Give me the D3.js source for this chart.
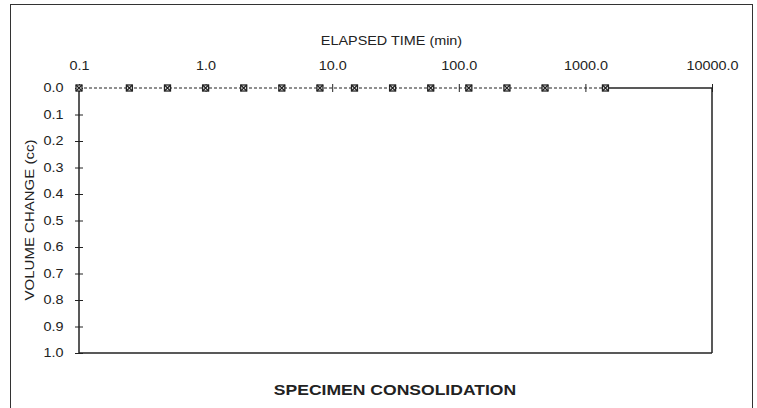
<!DOCTYPE html>
<html>
<head>
<meta charset="utf-8">
<script src="https://cdn.jsdelivr.net/npm/d3@7"></script>
<style>
  body { margin: 0; background: #fff; }
  text { font-family: "Liberation Sans", Arial, sans-serif; fill: #222; }
</style>
</head>
<body>
<div id="chart"></div>
<script>
const width = 757;
const height = 408;

// données
const elapsedTime = [0.1, 0.25, 0.5, 1, 2, 4, 8, 15, 30, 60, 120, 240, 480, 1440];
const volumeChange = [0, 0, 0, 0, 0, 0, 0, 0, 0, 0, 0, 0, 0, 0];
const xTicks = [0.1, 1, 10, 100, 1000, 10000];
const yTicks = [0, 0.1, 0.2, 0.3, 0.4, 0.5, 0.6, 0.7, 0.8, 0.9, 1.0];

const plot = { left: 79, right: 712, top: 88, bottom: 353 };
const sx = 1.2; // texte un peu étiré en largeur

const svg = d3.select("#chart").append("svg")
    .attr("width", width)
    .attr("height", height);

// cadre extérieur
svg.append("rect")
    .attr("x", 10.5).attr("y", 4.5)
    .attr("width", 742).attr("height", 420)
    .attr("fill", "none")
    .attr("stroke", "#333")
    .attr("stroke-width", 1);

const x = d3.scaleLog()
    .domain([0.1, 10000])
    .range([plot.left, plot.right]);

const y = d3.scaleLinear()
    .domain([0, 1])
    .range([plot.top, plot.bottom]);

// axe du haut
const gx = svg.append("g")
    .attr("transform", `translate(0,${plot.top})`)
    .call(d3.axisTop(x).tickValues(xTicks).tickFormat(d3.format(".1f")));
gx.select(".domain").remove();
gx.selectAll(".tick line").attr("y1", -4).attr("y2", 4).attr("stroke", "#222");
gx.selectAll(".tick text")
    .attr("y", -18).attr("dy", 0)
    .attr("transform", `scale(${sx},1)`)
    .style("font-size", "12px");

// axe de gauche
const gy = svg.append("g")
    .attr("transform", `translate(${plot.left},0)`)
    .call(d3.axisLeft(y).tickValues(yTicks).tickFormat(d3.format(".1f")));
gy.select(".domain").remove();
gy.selectAll(".tick line").attr("x1", -4).attr("x2", 4).attr("stroke", "#222");
gy.selectAll(".tick text")
    .attr("x", -13)
    .attr("transform", `scale(${sx},1)`)
    .style("font-size", "12px");

// bords de la zone de tracé
const frame = svg.append("g")
    .attr("stroke", "#222")
    .attr("stroke-width", 1.5)
    .attr("fill", "none");
frame.append("line")
    .attr("x1", x(0.1)).attr("x2", x(0.1))
    .attr("y1", y(0)).attr("y2", y(1));
frame.append("line")
    .attr("x1", x(0.1)).attr("x2", x(10000))
    .attr("y1", y(1)).attr("y2", y(1));
frame.append("line")
    .attr("x1", x(10000)).attr("x2", x(10000))
    .attr("y1", y(0)).attr("y2", y(1));
frame.append("line")
    .attr("x1", x(d3.max(elapsedTime))).attr("x2", x(10000))
    .attr("y1", y(0)).attr("y2", y(0));

// série
const pts = elapsedTime.map((t, i) => [t, volumeChange[i]]);
const line = d3.line().x(d => x(d[0])).y(d => y(d[1]));

svg.append("path")
    .datum(pts)
    .attr("d", line)
    .attr("fill", "none")
    .attr("stroke", "#222")
    .attr("stroke-width", 1.2)
    .attr("stroke-dasharray", "3,2");

const m = svg.selectAll(".marker")
    .data(pts)
    .enter()
    .append("g")
    .attr("class", "marker")
    .attr("transform", d => `translate(${x(d[0])},${y(d[1])})`)
    .attr("stroke", "#222")
    .attr("stroke-width", 1.3)
    .attr("fill", "none");
m.append("rect").attr("x", -3).attr("y", -3).attr("width", 6).attr("height", 6).attr("fill", "#fff");
m.append("path").attr("d", "M-3,-3L3,3M-3,3L3,-3");

// titres
const cx = (plot.left + plot.right) / 2 - 4;
svg.append("text")
    .attr("transform", `translate(${cx},45) scale(${sx},1)`)
    .attr("text-anchor", "middle")
    .style("font-size", "12px")
    .text("ELAPSED TIME (min)");

svg.append("text")
    .attr("transform", `translate(34,220) rotate(-90) scale(1.25,1)`)
    .attr("text-anchor", "middle")
    .style("font-size", "12px")
    .text("VOLUME CHANGE (cc)");

svg.append("text")
    .attr("transform", `translate(395,395) scale(1.17,1)`)
    .attr("text-anchor", "middle")
    .style("font-size", "15px")
    .style("font-weight", "bold")
    .text("SPECIMEN CONSOLIDATION");
</script>
</body>
</html>
